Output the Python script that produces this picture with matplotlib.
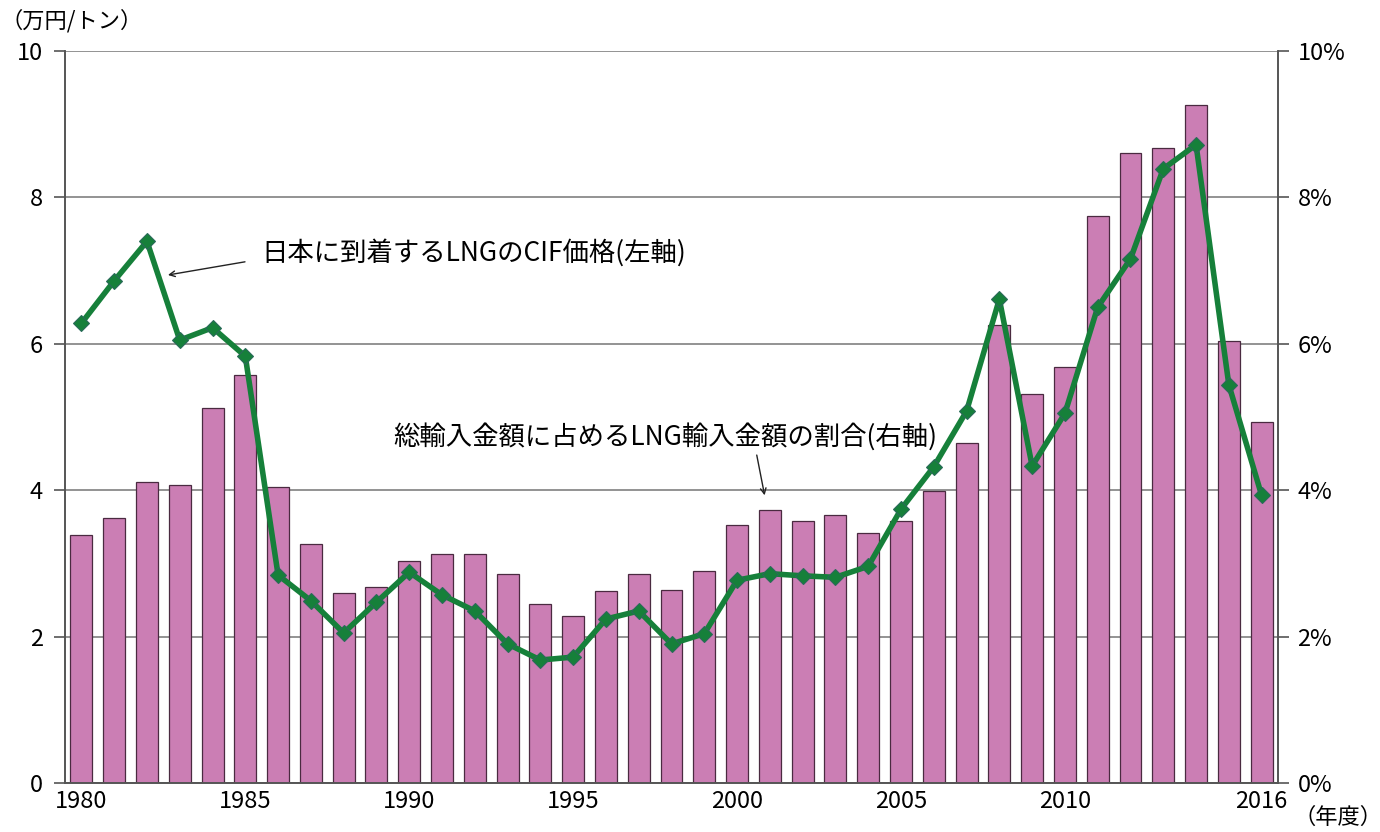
import matplotlib
matplotlib.use("Agg")
import matplotlib.pyplot as plt
import numpy as np

plt.rcParams['font.family'] = ['Noto Sans CJK JP', 'DejaVu Sans']

# 年度
years = list(range(1980, 2017))

# 総輸入金額に占めるLNG輸入金額の割合 (%), right axis, bars
share = [3.39, 3.62, 4.11, 4.07, 5.12, 5.57, 4.04, 3.27, 2.60, 2.68,
         3.03, 3.13, 3.13, 2.86, 2.45, 2.28, 2.62, 2.86, 2.64, 2.90,
         3.52, 3.73, 3.58, 3.66, 3.42, 3.58, 3.99, 4.64, 6.26, 5.31,
         5.68, 7.75, 8.61, 8.67, 9.26, 6.04, 4.93]

# 日本に到着するLNGのCIF価格 (万円/トン), left axis, line
cif = [6.28, 6.86, 7.40, 6.05, 6.22, 5.83, 2.84, 2.49, 2.05, 2.47,
       2.88, 2.57, 2.35, 1.90, 1.68, 1.72, 2.24, 2.35, 1.90, 2.04,
       2.77, 2.86, 2.83, 2.81, 2.96, 3.74, 4.32, 5.08, 6.61, 4.33,
       5.05, 6.50, 7.16, 8.39, 8.72, 5.44, 3.93]

year_labels = [1980, 1985, 1990, 1995, 2000, 2005, 2010, 2016]
left_ticks = [0, 2, 4, 6, 8, 10]
right_ticks = [0, 2, 4, 6, 8, 10]

fig = plt.figure(figsize=(13.8, 8.32), dpi=100)
ax = fig.add_axes([0.0471, 0.0589, 0.8790, 0.8798])
ax2 = ax.twinx()

x = np.arange(len(years))

# bars (right axis) go underneath, together with the grid
ax2.bar(x, share, width=0.67, color='#CB7EB4', edgecolor='#4A2A40', linewidth=0.9, zorder=2)
ax2.set_axisbelow(True)
ax2.yaxis.grid(True, color='#808080', linewidth=1.2)

# line (left axis) on top
ax.set_zorder(ax2.get_zorder() + 1)
ax.patch.set_visible(False)
ax.plot(x, cif, color='#16803A', linewidth=4, marker='D', markersize=8,
        markerfacecolor='#16803A', markeredgecolor='#2A6A5A', markeredgewidth=0.8, zorder=5)

for a in (ax, ax2):
    a.set_ylim(0, 10)
    a.set_xlim(-0.5, len(years) - 0.5)
    for s in a.spines.values():
        s.set_color('#555555')
        s.set_linewidth(1.2)
    a.spines['top'].set_visible(False)

ax.set_yticks(left_ticks)
ax.set_yticklabels([str(t) for t in left_ticks])
ax2.set_yticks(right_ticks)
ax2.set_yticklabels([f'{t}%' for t in right_ticks])
ax.tick_params(axis='y', length=8, width=1.2, color='#555555', labelsize=17, pad=8)
ax2.tick_params(axis='y', length=8, width=1.2, color='#555555', labelsize=17, pad=6)

# category boundaries as tick marks, year labels at category centres
ax.set_xticks(np.arange(len(years) + 1) - 0.5)
ax.set_xticklabels([])
ax.tick_params(axis='x', which='major', length=7, width=1.2, color='#555555')
ax.set_xticks([years.index(y) for y in year_labels], minor=True)
ax.set_xticklabels([str(y) for y in year_labels], minor=True)
ax.tick_params(axis='x', which='minor', length=0, labelsize=17, pad=5)
ax2.set_xticks([])

fig.text(0.0, 0.975, '（万円/トン）', fontsize=16, ha='left', va='center')
fig.text(0.937, 0.018, '（年度）', fontsize=16, ha='left', va='center')

ax.text(5.5, 7.24, '日本に到着するLNGのCIF価格(左軸)', fontsize=19, ha='left', va='center')
ax.annotate('', xy=(2.64, 6.94), xytext=(4.99, 7.12),
            arrowprops=dict(arrowstyle='->', color='#222222', lw=1.0, shrinkA=0, shrinkB=0))
ax.text(9.5, 4.73, '総輸入金額に占めるLNG輸入金額の割合(右軸)', fontsize=19, ha='left', va='center')
ax.annotate('', xy=(20.84, 3.93), xytext=(20.6, 4.48),
            arrowprops=dict(arrowstyle='->', color='#222222', lw=1.0, shrinkA=0, shrinkB=0))

fig.savefig('out.png', dpi=100)
